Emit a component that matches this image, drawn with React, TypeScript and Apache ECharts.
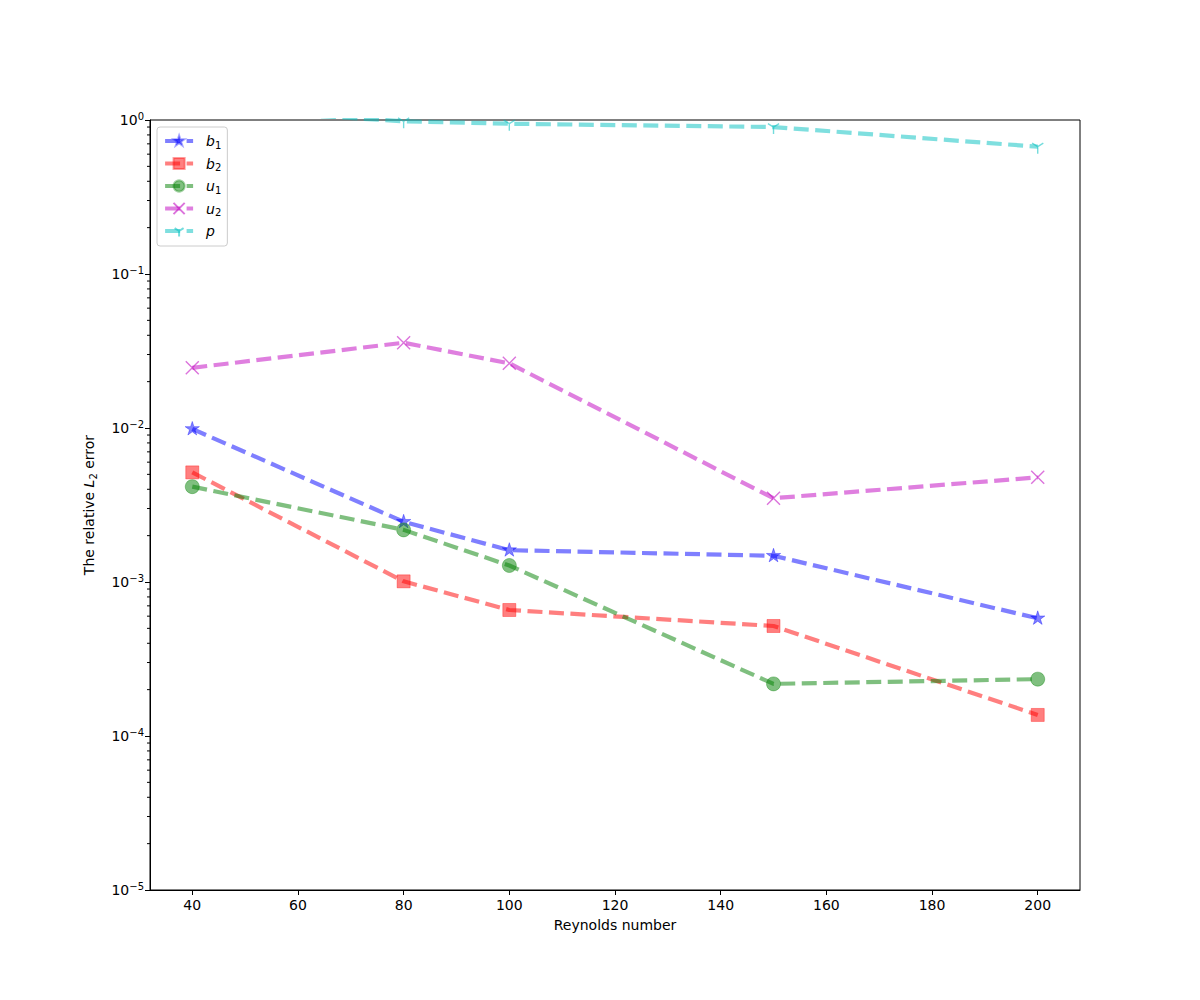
import React, { useEffect, useRef } from "react";
import * as echarts from "echarts";

const reynolds = [40, 80, 100, 150, 200];
const b1 = [0.00986, 0.00246, 0.00161, 0.00148, 0.000581];
const b2 = [0.00515, 0.00101, 0.000658, 0.000518, 0.000137];
const u1 = [0.00416, 0.00218, 0.00128, 0.000218, 0.000234];
const u2 = [0.0246, 0.0358, 0.0263, 0.0035, 0.00478];
const p = [1.2, 0.98, 0.946, 0.9, 0.671];
const xTicks = [40, 60, 80, 100, 120, 140, 160, 180, 200];
const minorTickValues: number[] = [];
for (let e = -5; e < 0; e++) {
  for (let k = 2; k <= 9; k++) minorTickValues.push(k * Math.pow(10, e));
}

const STAR =
  "path://M10,0L12.245,6.91L19.511,6.91L13.633,11.18L15.878,18.09L10,13.82L4.122,18.09L6.367,11.18L0.489,6.91L7.755,6.91Z M0,10L0,10 M20,10L20,10 M10,20L10,20";
const XMARK = "path://M0,0L20,20M20,0L0,20";
const TRI = "path://M10,10L10,20M10,10L2,5M10,10L18,5M0,10L0,10M20,10L20,10M10,0L10,0";

const FONT = "DejaVu Sans";

function mk(name: string, vals: number[], rgb: string, symbol: string, size: number, stroke: boolean) {
  return {
    name,
    type: "line",
    data: reynolds.map((x, i) => [x, vals[i]]),
    symbol,
    symbolSize: size,
    showSymbol: true,
    clip: true,
    lineStyle: { color: `rgba(${rgb},0.5)`, width: 4.2, type: [15, 6.5] },
    itemStyle: stroke
      ? { color: "rgba(0,0,0,0)", borderColor: `rgba(${rgb},0.55)`, borderWidth: 1.4 }
      : { color: `rgba(${rgb},0.5)`, borderColor: `rgba(${rgb},0.35)`, borderWidth: 1 },
    emphasis: { disabled: true },
    z: 3,
  };
}

export default function App() {
  const ref = useRef<HTMLDivElement>(null);
  useEffect(() => {
    const chart = echarts.init(ref.current!, null, { renderer: "svg" });
    const legendNames: Record<string, string> = {
      b1: "{i|b}{s|1}",
      b2: "{i|b}{s|2}",
      u1: "{i|u}{s|1}",
      u2: "{i|u}{s|2}",
      p: "{i|p}",
    };
    chart.setOption({
      animation: false,
      backgroundColor: "#ffffff",
      textStyle: { fontFamily: FONT },
      grid: {
        left: 150,
        right: 120,
        top: 120,
        bottom: 110,
        show: true,
        borderColor: "#000",
        borderWidth: 1,
        backgroundColor: "transparent",
      },
      legend: {
        data: ["b1", "b2", "u1", "u2", "p"],
        orient: "vertical",
        left: 157,
        top: 127,
        itemWidth: 28,
        itemHeight: 14,
        itemGap: 6.5,
        padding: [7, 6, 8, 6],
        backgroundColor: "rgba(255,255,255,0.8)",
        borderColor: "#cccccc",
        borderWidth: 1,
        borderRadius: 3,
        selectedMode: false,
        lineStyle: { width: 4.2, type: [15, 6.5] },
        formatter: (name: string) => legendNames[name],
        textStyle: {
          fontFamily: FONT,
          fontSize: 14,
          color: "#000",
          padding: [0, 0, 0, 8],
          rich: {
            i: { fontFamily: FONT, fontSize: 14, fontStyle: "italic", color: "#000" },
            s: { fontFamily: FONT, fontSize: 10, color: "#000", padding: [8, 0, 0, 0] },
          },
        },
      },
      xAxis: {
        type: "value",
        min: 32,
        max: 208,
        name: "Reynolds number",
        nameLocation: "middle",
        nameGap: 28,
        nameTextStyle: { fontFamily: FONT, fontSize: 14, color: "#000" },
        axisLine: { show: true, lineStyle: { color: "#000", width: 1 } },
        axisTick: {
          show: true,
          inside: false,
          length: 5,
          customValues: xTicks,
          lineStyle: { color: "#000", width: 1 },
        },
        axisLabel: {
          customValues: xTicks,
          fontFamily: FONT,
          fontSize: 14,
          color: "#000",
          margin: 8,
        },
        splitLine: { show: false },
      },
      yAxis: {
        type: "log",
        logBase: 10,
        min: 1e-5,
        max: 1,
        name: "{a|The relative }{i|L}{s|2}{a| error}",
        nameLocation: "middle",
        nameGap: 52,
        nameTextStyle: {
          fontFamily: FONT,
          fontSize: 14,
          color: "#000",
          rich: {
            a: { fontFamily: FONT, fontSize: 14, color: "#000" },
            i: { fontFamily: FONT, fontSize: 14, fontStyle: "italic", color: "#000" },
            s: { fontFamily: FONT, fontSize: 10, color: "#000", padding: [8, 0, 0, 0] },
          },
        },
        axisLine: { show: true, lineStyle: { color: "#000", width: 1 } },
        axisTick: { show: true, inside: false, length: 5, lineStyle: { color: "#000", width: 1 } },
        axisLabel: {
          fontFamily: FONT,
          fontSize: 14,
          color: "#000",
          margin: 6,
          formatter: (v: number) => {
            const e = Math.round(Math.log10(v));
            return `{b|10}{e|${e === 0 ? "0" : "\u2212" + -e}}`;
          },
          rich: {
            b: { fontFamily: FONT, fontSize: 14, color: "#000" },
            e: { fontFamily: FONT, fontSize: 10, color: "#000", padding: [0, 0, 8, 0] },
          },
        },
        splitLine: { show: false },
        minorTick: { show: false },
      },
      series: [
        mk("b1", b1, "0,0,255", STAR, 15, false),
        mk("b2", b2, "255,0,0", "rect", 13, false),
        mk("u1", u1, "0,128,0", "circle", 14, false),
        mk("u2", u2, "191,0,191", XMARK, 13, true),
        mk("p", p, "0,191,191", TRI, 14, true),
        {
          type: "custom",
          name: "minor",
          silent: true,
          clip: false,
          coordinateSystem: "cartesian2d",
          data: minorTickValues.map((v) => [32, v]),
          renderItem: (params: any, api: any) => {
            const pt = api.coord([32, api.value(1)]);
            return {
              type: "line",
              shape: { x1: pt[0], y1: pt[1], x2: pt[0] - 3, y2: pt[1] },
              style: { stroke: "#000", lineWidth: 1 },
            };
          },
          z: 1,
        },
      ],
    });
    return () => chart.dispose();
  }, []);
  return (
    <div
      ref={ref}
      style={{ position: "fixed", left: 0, top: 0, width: 1200, height: 1000, background: "#fff" }}
    />
  );
}
